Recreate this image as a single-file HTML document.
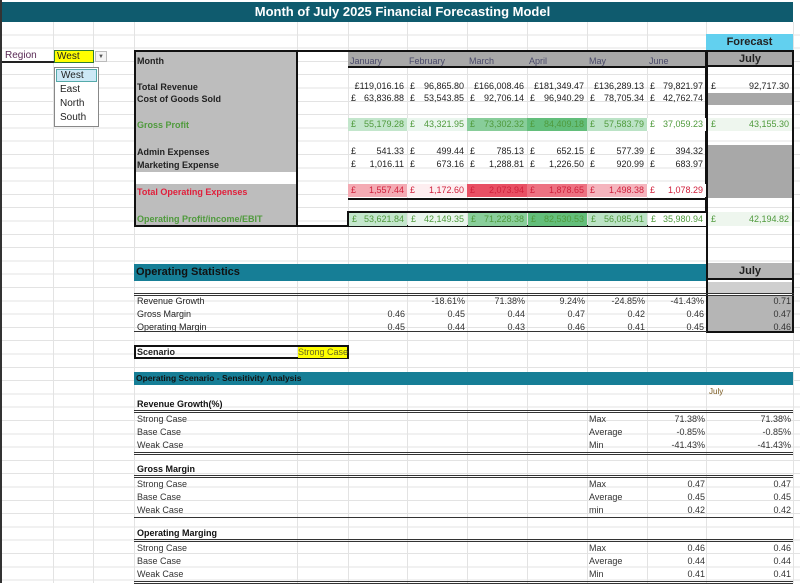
<!DOCTYPE html>
<html><head><meta charset="utf-8"><style>
*{margin:0;padding:0;box-sizing:border-box}
body{width:800px;height:583px;overflow:hidden;background:#fff;font-family:"Liberation Sans",sans-serif;font-size:9px;color:#222;position:relative}
.a{position:absolute}
.t{position:absolute;white-space:nowrap;line-height:12px;height:12px}
.r{text-align:right}
.b{font-weight:bold}
.vl{position:absolute;top:22px;bottom:0;width:1px;background:#e3e3e3}
</style></head><body>
<div class="a" style="left:0;top:22px;width:800px;height:561px;background:repeating-linear-gradient(to bottom,transparent 0,transparent 12.3px,#e3e3e3 12.3px,#e3e3e3 13.3px)"></div>
<div id="vlines"></div>
<div class="a" style="left:0;top:0;width:2px;height:583px;background:#333"></div>
<div class="a" style="left:2px;top:2px;width:791px;height:20px;background:#0f5b6e;color:#fff;font-weight:bold;font-size:13px;line-height:20px;text-align:center;padding-left:10px">Month of July 2025 Financial Forecasting Model</div>

<!-- region selector -->
<div class="t" style="left:2px;top:50px;width:52px;height:13px;border-bottom:2px solid #222;padding-left:3px;color:#5a2a55;font-size:10px">Region</div>
<div class="t" style="left:54px;top:50px;width:40px;height:13px;background:#ffff00;border:1px solid #2e7d32;padding-left:2px;font-size:10px;line-height:11px">West</div>
<div class="a" style="left:95px;top:51px;width:12px;height:11px;border:1px solid #bbb;background:#f4f4f4;font-size:6px;text-align:center;line-height:10px;color:#555">▼</div>
<div class="a" style="left:54px;top:67px;width:45px;height:60px;border:1px solid #888;background:#fff;font-size:10px">
<div style="margin:1px;height:13px;background:#cce8f6;border:1px solid #5aa;padding-left:4px;line-height:11px">West</div>
<div style="height:14px;padding-left:5px;line-height:14px">East</div>
<div style="height:14px;padding-left:5px;line-height:14px">North</div>
<div style="height:14px;padding-left:5px;line-height:14px">South</div>
</div>

<!-- main box -->
<div class="a" style="left:134px;top:50px;width:163px;height:176px;background:#bdbdbd"></div>
<div class="a" style="left:136px;top:172px;width:161px;height:12px;background:#fff"></div>
<div class="a" style="left:348px;top:51px;width:358px;height:16px;background:#a8a8a8"></div>
<div class="a" style="left:134px;top:50px;width:573px;height:177px;border:2px solid #111"></div>
<div class="a" style="left:296px;top:50px;width:2px;height:177px;background:#111"></div>
<div class="a" style="left:348px;top:66px;width:359px;height:2px;background:#111"></div>
<div class="a" style="left:348px;top:198px;width:359px;height:2px;background:#111"></div>
<div class="a" style="left:347px;top:211px;width:360px;height:16px;border:2px solid #111"></div>
<div class="t b" style="left:137px;top:55px">Month</div>
<div class="t b" style="left:137px;top:81px">Total Revenue</div>
<div class="t b" style="left:137px;top:93px">Cost of Goods Sold</div>
<div class="t b" style="left:137px;top:119px;color:#4f9a3c">Gross Profit</div>
<div class="t b" style="left:137px;top:146px">Admin Expenses</div>
<div class="t b" style="left:137px;top:159px">Marketing Expense</div>
<div class="t b" style="left:137px;top:186px;color:#e0203c">Total Operating Expenses</div>
<div class="t b" style="left:137px;top:213px;color:#4f9a3c">Operating Profit/income/EBIT</div>

<!-- July forecast -->
<div class="t b" style="left:706px;top:34px;width:87px;height:16px;background:#62d0ef;text-align:center;font-size:11px;line-height:16px">Forecast</div>
<div class="a" style="left:706px;top:50px;width:88px;height:283px;border:2px solid #111"></div>
<div class="t b" style="left:708px;top:52px;width:84px;height:15px;background:#a8a8a8;text-align:center;font-size:11px;line-height:15px;border-bottom:2px solid #111">July</div>
<div class="a" style="left:708px;top:93px;width:84px;height:12px;background:#a8a8a8"></div>
<div class="a" style="left:708px;top:145px;width:84px;height:53px;background:#a8a8a8"></div>
<div class="a" style="left:708px;top:118px;width:84px;height:13px;background:#eef6ee"></div>
<div class="a" style="left:708px;top:212px;width:84px;height:14px;background:#eef6ee"></div>

<!-- operating statistics -->
<div class="t b" style="left:134px;top:264px;width:572px;height:17px;background:#167e96;font-size:11px;line-height:17px;padding-left:2px;color:#111">Operating Statistics</div>
<div class="t b" style="left:708px;top:263px;width:84px;height:17px;background:#b5b5b5;text-align:center;font-size:11px;line-height:17px;border-bottom:2px solid #111">July</div>
<div class="a" style="left:708px;top:282px;width:84px;height:11px;background:#cfcfcf"></div>
<div class="a" style="left:708px;top:295px;width:84px;height:36px;background:#b5b5b5"></div>
<div class="a" style="left:134px;top:293px;width:660px;height:3px;border-top:1px solid #333;border-bottom:1px solid #333"></div>
<div class="a" style="left:134px;top:331px;width:573px;height:1px;background:#333"></div>
<div class="t" style="left:137px;top:295px">Revenue Growth</div>
<div class="t" style="left:137px;top:308px">Gross Margin</div>
<div class="t" style="left:137px;top:321px">Operating Margin</div>

<!-- scenario -->
<div class="a" style="left:134px;top:345px;width:215px;height:14px;border:2px solid #111"></div>
<div class="t b" style="left:137px;top:346px">Scenario</div>
<div class="t" style="left:298px;top:347px;width:49px;height:11px;background:#ffff00;line-height:11px;text-align:center;color:#6a6a20">Strong Case</div>

<!-- sensitivity -->
<div class="t b" style="left:134px;top:372px;width:659px;height:13px;background:#167e96;line-height:13px;padding-left:2px;color:#111;font-size:8.5px">Operating Scenario - Sensitivity Analysis</div>
<div class="t" style="left:709px;top:386px;color:#7a5a20;font-size:8px">July</div>
<div id="sens"></div>
<div id="cells"></div>

<script>
const months=["January","February","March","April","May","June"];
const totalRevenue=[119016.16,96865.80,166008.46,181349.47,136289.13,79821.97];
const cogs=[63836.88,53543.85,92706.14,96940.29,78705.34,42762.74];
const grossProfit=[55179.28,43321.95,73302.32,84409.18,57583.79,37059.23];
const adminExp=[541.33,499.44,785.13,652.15,577.39,394.32];
const marketingExp=[1016.11,673.16,1288.81,1226.50,920.99,683.97];
const totalOpex=[1557.44,1172.60,2073.94,1878.65,1498.38,1078.29];
const ebit=[53621.84,42149.35,71228.38,82530.53,56085.41,35980.94];
const revenueGrowth=[null,-18.61,71.38,9.24,-24.85,-41.43];
const grossMargin=[0.46,0.45,0.44,0.47,0.42,0.46];
const operatingMargin=[0.45,0.44,0.43,0.46,0.41,0.45];
const julyRevenue=92717.30, julyGP=43155.30, julyEBIT=42194.82;
const julyStats=[0.71,0.47,0.46];
const sensRevenue=[["Max",71.38,71.38],["Average",-0.85,-0.85],["Min",-41.43,-41.43]];
const sensGross=[["Max",0.47,0.47],["Average",0.45,0.45],["min",0.42,0.42]];
const sensOper=[["Max",0.46,0.46],["Average",0.44,0.44],["Min",0.41,0.41]];

const colX=[53,93,134,297,348,407,467,527,587,647,706,793];
const vl=document.getElementById('vlines');
colX.forEach(x=>{const d=document.createElement('div');d.className='vl';d.style.left=x+'px';


vl.appendChild(d);});

const fmt=v=>v.toLocaleString('en-GB',{minimumFractionDigits:2,maximumFractionDigits:2});
const C=document.getElementById('cells');
function txt(x,y,w,s,cls,color,name,bg){const d=document.createElement('div');d.className='t '+(cls||'');
d.style.left=x+'px';d.style.top=y+'px';if(w)d.style.width=w+'px';if(color)d.style.color=color;if(bg)d.style.background=bg;d.textContent=s;


C.appendChild(d);return d;}
function money(x,y,w,v,color,name,bg){
 const box=txt(x,y,w,'', '',color,name,bg);box.style.height='13px';box.style.lineHeight='13px';
 const big=v>=100000;
 box.innerHTML='<span style="position:absolute;left:3px">£</span><span style="position:absolute;right:3px">'+fmt(v)+'</span>';
 if(big)box.innerHTML='<span style="position:absolute;right:3px">£'+fmt(v)+'</span>';
}
function green(v,arr){const mn=Math.min(...arr),mx=Math.max(...arr);const t=(v-mn)/(mx-mn);
 const r=Math.round(255-(255-99)*t),g=Math.round(255-(255-190)*t),b=Math.round(255-(255-123)*t);return `rgb(${r},${g},${b})`;}
function red(v,arr){const mn=Math.min(...arr),mx=Math.max(...arr);const t=(v-mn)/(mx-mn);
 const r=Math.round(255-(255-232)*t),g=Math.round(255-(255-80)*t),b=Math.round(255-(255-100)*t);return `rgb(${r},${g},${b})`;}
months.forEach((m,i)=>{
 const x=colX[4+i],w=colX[5+i]-x;
 txt(x+2,55,w,m,'','#4a4a6a','month-'+m.toLowerCase());
 money(x,80,w,totalRevenue[i],'#222','revenue-'+m.toLowerCase());
 money(x,92,w,cogs[i],'#222','cogs-'+m.toLowerCase());
 money(x,118,w,grossProfit[i],'#4f9a3c','gross-profit-'+m.toLowerCase(),green(grossProfit[i],grossProfit));
 money(x,145,w,adminExp[i],'#222','admin-'+m.toLowerCase());
 money(x,158,w,marketingExp[i],'#222','marketing-'+m.toLowerCase());
 money(x,184,w,totalOpex[i],'#d0203c','total-opex-'+m.toLowerCase(),red(totalOpex[i],totalOpex));
 money(x+1,213,w-1,ebit[i],'#4f9a3c','ebit-'+m.toLowerCase(),green(ebit[i],ebit));
 if(revenueGrowth[i]!==null)txt(x,295,w-2,revenueGrowth[i].toFixed(2)+'%','r','#333','revenue-growth-'+m.toLowerCase());
 txt(x,308,w-2,grossMargin[i].toFixed(2),'r','#333','gross-margin-'+m.toLowerCase());
 txt(x,321,w-2,operatingMargin[i].toFixed(2),'r','#333','operating-margin-'+m.toLowerCase());
});
money(708,80,84,julyRevenue,'#222','july-revenue');
money(708,118,84,julyGP,'#4f9a3c','july-gross-profit');
money(708,213,84,julyEBIT,'#4f9a3c','july-ebit');
julyStats.forEach((v,i)=>txt(708,295+13*i,83,v.toFixed(2),'r','#333','july-stat-'+i));

const S=document.getElementById('sens');
function line(y,dbl,name){const d=document.createElement('div');d.className='a';d.style.left='134px';d.style.width='659px';d.style.top=y+'px';
 if(dbl){d.style.height='3px';d.style.borderTop='1px solid #333';d.style.borderBottom='1px solid #333';}else{d.style.height='1px';d.style.background='#333';}
 
 
 S.appendChild(d);}
function block(y,title,rows,pct,key,endDbl){
 txt(137,y,0,title,'b','#111',key+'-title');
 line(y+12,true,key+'-top-line');
 const cases=['Strong Case','Base Case','Weak Case'];
 rows.forEach((r,i)=>{const yy=y+15+13*i;
  txt(137,yy,0,cases[i],'','#333',key+'-case-'+i);
  txt(589,yy,0,r[0],'','#333',key+'-stat-'+i);
  txt(647,yy,58,pct?r[1].toFixed(2)+'%':r[1].toFixed(2),'r','#333',key+'-value-'+i);
  txt(706,yy,85,pct?r[2].toFixed(2)+'%':r[2].toFixed(2),'r','#333',key+'-july-'+i);
 });
 line(y+54,endDbl,key+'-bottom-line');
}
block(398,'Revenue Growth(%)',sensRevenue,true,'revenue-growth-sens',true);
block(463,'Gross Margin',sensGross,false,'gross-margin-sens',false);
block(527,'Operating Marging',sensOper,false,'operating-margin-sens',true);
</script>
</body></html>
